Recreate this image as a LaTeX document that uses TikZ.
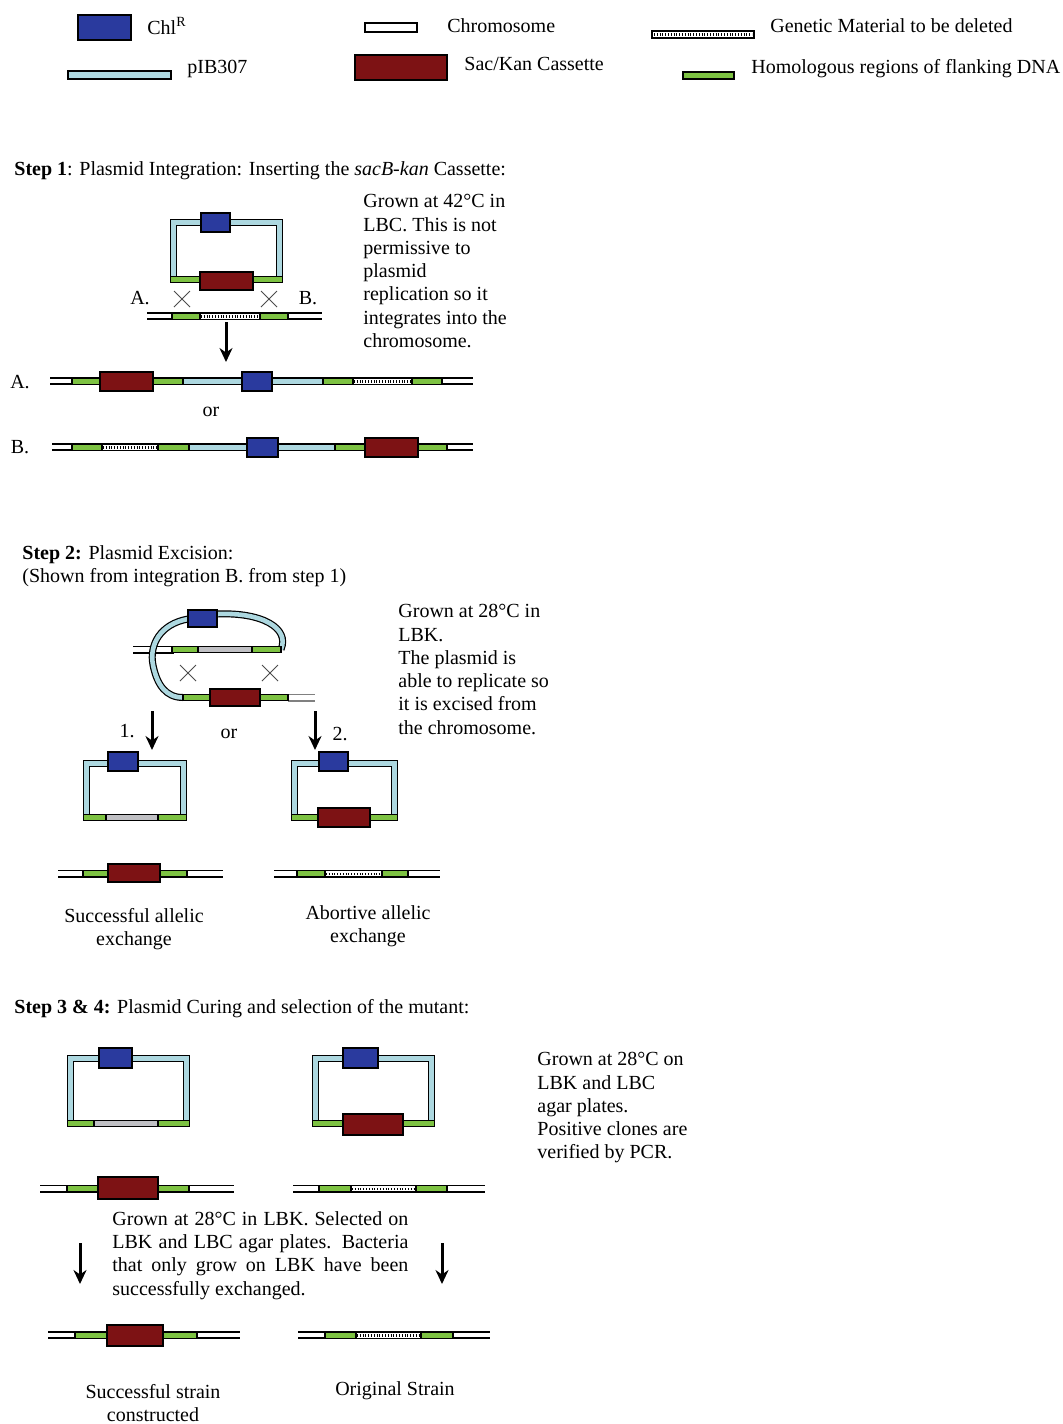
\documentclass[tikz,border=0pt]{standalone}
\usepackage{fontspec}
\setmainfont{Liberation Serif}
\usetikzlibrary{arrows.meta}
\definecolor{chlBlue}{RGB}{42,58,158}
\definecolor{kanRed}{RGB}{125,18,20}
\definecolor{vecBlue}{RGB}{173,216,224}
\definecolor{homGreen}{RGB}{125,194,66}
\definecolor{cutGrey}{RGB}{192,192,196}
\tikzstyle{chlBox} = [draw=black, line width=0.6pt, fill=chlBlue]
\tikzstyle{kanBox} = [draw=black, line width=0.6pt, fill=kanRed]
\tikzstyle{homSeg} = [draw=black, line width=0.6pt, fill=homGreen]
\tikzstyle{vecSeg} = [draw=black, line width=0.6pt, fill=vecBlue]
\tikzstyle{cutSeg} = [draw=black, line width=0.6pt, fill=cutGrey]
\tikzstyle{delSeg} = [draw=black, line width=0.6pt, fill=white]
\tikzstyle{delTicks} = [line width=1.3pt, dash pattern=on 0.5pt off 0.9pt]
\tikzstyle{chromLine} = [draw=black, line width=0.9pt, double=white, double distance=2.2pt]
\tikzstyle{ringLine} = [draw=black, line width=0.6pt, double=vecBlue, double distance=2.3pt]
\tikzstyle{crossMark} = [draw=black!70, line width=0.5pt]
\tikzstyle{arrow} = [line width=1.5pt, -{Stealth[length=7pt, width=6.5pt]}]
\tikzstyle{plainText} = [inner sep=0pt, font=\fontsize{10}{11.65}\selectfont]
\tikzstyle{blockText} = [plainText, align=left, anchor=north west]

\begin{document}
\begin{tikzpicture}[x=0.5pt, y=-0.5pt]
\useasboundingbox (0,0) rectangle (1063,1424);
\fill[white] (0,0) rectangle (1063,1424);

% legend
\draw [chlBox] (78,15) rectangle (131,40);
\node (chlLabel) [plainText, anchor=west] at (147,26) {Chl\textsuperscript{R}};
\draw [delSeg] (365,23) rectangle (417,32);
\node (chromLabel) [plainText, anchor=west] at (447,26) {Chromosome};
\draw [delSeg] (652,31) rectangle (754,38);
\draw [delTicks] (654,34.5) -- (752,34.5);
\node (deleteLabel) [plainText, anchor=west] at (770,26) {Genetic Material to be deleted};
\draw [vecSeg] (68,71) rectangle (171,79);
\node (vectorLabel) [plainText, anchor=west] at (187,69) {pIB307};
\draw [kanBox] (355,55) rectangle (447,80);
\node (cassetteLabel) [plainText, anchor=west] at (464,64) {Sac/Kan Cassette};
\draw [homSeg] (683,72) rectangle (734,79);
\node (homLabel) [plainText, anchor=west] at (751,69) {Homologous regions of flanking DNA};

% step 1
\node (step1Title) [plainText, anchor=west] at (14,171) {\textbf{Step 1}: Plasmid Integration: Inserting the \textit{sacB-kan} Cassette:};
\draw [ringLine] (173.5,222.5) rectangle (279.5,279.5);
\draw [homSeg] (170.6,276.6) rectangle (200,282.4);
\draw [homSeg] (253,276.6) rectangle (282.4,282.4);
\draw [kanBox] (200,272) rectangle (253,290);
\draw [chlBox] (201,213) rectangle (230,232);
\node (siteA) [plainText] at (140,298) {A.};
\node (siteB) [plainText] at (308,298) {B.};
\draw [crossMark] (174,291) -- (190,307) (174,307) -- (190,291);
\draw [crossMark] (261,291) -- (277,307) (261,307) -- (277,291);
\draw [chromLine] (147,316) -- (322,316);
\draw [homSeg] (172,312.9) rectangle (200,319.1);
\draw [delSeg] (200,312.9) rectangle (260,319.1);
\draw [delTicks] (201,316.5) -- (259,316.5);
\draw [homSeg] (260,312.9) rectangle (288,319.1);
\node (step1Note) [blockText] at (363,194) {Grown at 42°C in\\LBC. This is not\\permissive to\\plasmid\\replication so it\\integrates into the\\chromosome.};
\coordinate (intTop) at (226,322);
\coordinate (intBottom) at (226,362);
\draw [arrow] (intTop) -- (intBottom);

\node (rowA) [plainText] at (20,382) {A.};
\draw [chromLine] (50,381) -- (473,381);
\draw [homSeg] (72,377.9) rectangle (100,384.1);
\draw [homSeg] (153,377.9) rectangle (183,384.1);
\draw [vecSeg] (183,377.9) rectangle (242,384.1);
\draw [vecSeg] (272,377.9) rectangle (323,384.1);
\draw [homSeg] (323,377.9) rectangle (353,384.1);
\draw [delSeg] (353,377.9) rectangle (412,384.1);
\draw [delTicks] (354,381.5) -- (411,381.5);
\draw [homSeg] (412,377.9) rectangle (442,384.1);
\draw [kanBox] (100,372) rectangle (153,391);
\draw [chlBox] (242,372) rectangle (272,391);
\node (orOne) [plainText] at (211,412) {or};
\node (rowB) [plainText] at (20,447) {B.};
\draw [chromLine] (52,447) -- (473,447);
\draw [homSeg] (72,443.9) rectangle (102,450.1);
\draw [delSeg] (102,443.9) rectangle (158,450.1);
\draw [delTicks] (103,447.5) -- (157,447.5);
\draw [homSeg] (158,443.9) rectangle (189,450.1);
\draw [vecSeg] (189,443.9) rectangle (247,450.1);
\draw [vecSeg] (278,443.9) rectangle (335,450.1);
\draw [homSeg] (335,443.9) rectangle (365,450.1);
\draw [homSeg] (418,443.9) rectangle (447,450.1);
\draw [chlBox] (247,438) rectangle (278,457);
\draw [kanBox] (365,438) rectangle (418,457);

% step 2
\node (step2Title) [blockText] at (22,545) {\textbf{Step 2:} Plasmid Excision:\\(Shown from integration B. from step 1)};
\draw [chromLine] (133,649.5) -- (174,649.5);
\draw [ringLine] (217,614) .. controls (262,612) and (290,628) .. (281,649.5);
\draw [ringLine] (188,619) .. controls (160,624) and (149,645) .. (153,665) .. controls (157,685) and (166,697.5) .. (183,697.5);
\draw [homSeg] (172,646.4) rectangle (198,652.6);
\draw [cutSeg] (198,646.4) rectangle (252,652.6);
\draw [homSeg] (252,646.4) rectangle (281,652.6);
\draw [chlBox] (188,610) rectangle (217,627);
\draw [chromLine, draw=gray] (288,697.5) -- (315,697.5);
\draw [homSeg] (183,694.4) rectangle (210,700.6);
\draw [homSeg] (260,694.4) rectangle (288,700.6);
\draw [kanBox] (210,689) rectangle (260,706);
\draw [crossMark] (180,665) -- (196,681) (180,681) -- (196,665);
\draw [crossMark] (262,665) -- (278,681) (262,681) -- (278,665);
\node (step2Note) [blockText] at (398,604) {Grown at 28°C in\\LBK.\\The plasmid is\\able to replicate so\\it is excised from\\the chromosome.};
\coordinate (excTopOne) at (152,711);
\coordinate (excBotOne) at (152,750);
\coordinate (excTopTwo) at (315,711);
\coordinate (excBotTwo) at (315,750);
\draw [arrow] (excTopOne) -- (excBotOne);
\draw [arrow] (excTopTwo) -- (excBotTwo);
\node (wayOne) [plainText] at (127,731) {1.};
\node (orTwo) [plainText] at (229,734) {or};
\node (wayTwo) [plainText] at (340,734) {2.};

\draw [ringLine] (86.5,763.5) rectangle (183.5,817.5);
\draw [homSeg] (83.6,814.6) rectangle (106,820.4);
\draw [cutSeg] (106,814.6) rectangle (158,820.4);
\draw [homSeg] (158,814.6) rectangle (186.4,820.4);
\draw [chlBox] (108,752) rectangle (138,771);
\draw [ringLine] (294.5,763.5) rectangle (394.5,817.5);
\draw [homSeg] (291.6,814.6) rectangle (318,820.4);
\draw [homSeg] (370,814.6) rectangle (397.4,820.4);
\draw [kanBox] (318,808) rectangle (370,827);
\draw [chlBox] (319,752) rectangle (348,771);

\draw [chromLine] (58,873.5) -- (223,873.5);
\draw [homSeg] (83,870.4) rectangle (108,876.6);
\draw [homSeg] (160,870.4) rectangle (187,876.6);
\draw [kanBox] (108,864) rectangle (160,882);
\draw [chromLine] (274,873.5) -- (440,873.5);
\draw [homSeg] (297,870.4) rectangle (325,876.6);
\draw [delSeg] (325,870.4) rectangle (382,876.6);
\draw [delTicks] (326,874) -- (381,874);
\draw [homSeg] (382,870.4) rectangle (408,876.6);
\node (goodExchange) [plainText, align=center] at (134,929) {Successful allelic\\exchange};
\node (badExchange) [plainText, align=center] at (368,926) {Abortive allelic\\exchange};

% step 3 & 4
\node (step3Title) [plainText, anchor=west] at (14,1009) {\textbf{Step 3 \& 4:} Plasmid Curing and selection of the mutant:};
\draw [ringLine] (70.5,1058.5) rectangle (186.5,1123.5);
\draw [homSeg] (67.6,1120.6) rectangle (94,1126.4);
\draw [cutSeg] (94,1120.6) rectangle (158,1126.4);
\draw [homSeg] (158,1120.6) rectangle (189.4,1126.4);
\draw [chlBox] (99,1048) rectangle (132,1068);
\draw [ringLine] (315.5,1058.5) rectangle (431.5,1123.5);
\draw [homSeg] (312.6,1120.6) rectangle (343,1126.4);
\draw [homSeg] (403,1120.6) rectangle (434.4,1126.4);
\draw [kanBox] (343,1114) rectangle (403,1135);
\draw [chlBox] (343,1048) rectangle (378,1068);
\node (step3Note) [blockText] at (537,1052) {Grown at 28°C on\\LBK and LBC\\agar plates.\\Positive clones are\\verified by PCR.};

\draw [chromLine] (40,1188.5) -- (234,1188.5);
\draw [homSeg] (67,1185.4) rectangle (98,1191.6);
\draw [homSeg] (158,1185.4) rectangle (189,1191.6);
\draw [kanBox] (98,1177) rectangle (158,1199);
\draw [chromLine] (293,1188.5) -- (485,1188.5);
\draw [homSeg] (319,1185.4) rectangle (351,1191.6);
\draw [delSeg] (351,1185.4) rectangle (416,1191.6);
\draw [delTicks] (352,1189) -- (415,1189);
\draw [homSeg] (416,1185.4) rectangle (447,1191.6);
\node (selectNote) [plainText, align=justify, text width=148pt, anchor=north west] at (112,1211) {Grown at 28°C in LBK. Selected on\linebreak LBK and LBC agar plates. Bacteria\linebreak that only grow on LBK have been\linebreak successfully exchanged.};
\coordinate (selTopOne) at (80,1243);
\coordinate (selBotOne) at (80,1284);
\coordinate (selTopTwo) at (442,1243);
\coordinate (selBotTwo) at (442,1284);
\draw [arrow] (selTopOne) -- (selBotOne);
\draw [arrow] (selTopTwo) -- (selBotTwo);

\draw [chromLine] (48,1335) -- (240,1335);
\draw [homSeg] (75,1331.9) rectangle (107,1338.1);
\draw [homSeg] (163,1331.9) rectangle (197,1338.1);
\draw [kanBox] (107,1325) rectangle (163,1346);
\draw [chromLine] (298,1335) -- (490,1335);
\draw [homSeg] (325,1331.9) rectangle (356,1338.1);
\draw [delSeg] (356,1331.9) rectangle (421,1338.1);
\draw [delTicks] (357,1335.5) -- (420,1335.5);
\draw [homSeg] (421,1331.9) rectangle (453,1338.1);
\node (mutantStrain) [plainText, align=center] at (153,1403) {Successful strain\\constructed};
\node (originalStrain) [plainText] at (395,1391) {Original Strain};
\end{tikzpicture}
\end{document}
